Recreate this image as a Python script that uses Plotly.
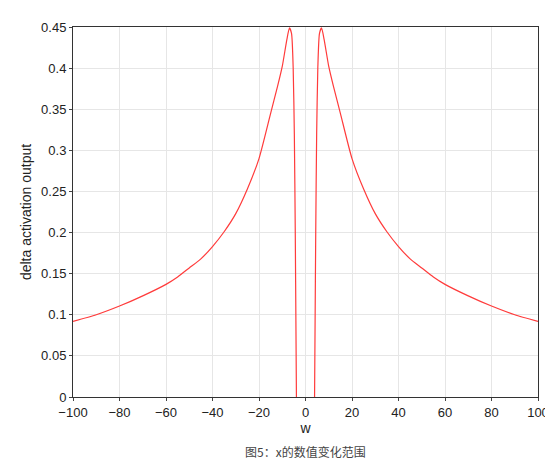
import plotly.graph_objects as go

w_left = [-100, -90, -80, -70, -60, -55, -50, -45, -40, -35, -30, -25, -20, -15, -12, -10, -8, -6.9, -6.0, -5.3, -4.8, -4.4, -4.1, -3.9]
y_left = [0.092, 0.100, 0.1106, 0.123, 0.137, 0.146, 0.157, 0.168, 0.183, 0.201, 0.223, 0.253, 0.290, 0.345, 0.378, 0.402, 0.435, 0.449, 0.442, 0.40, 0.32, 0.20, 0.08, 0.0]
w_right = [-v for v in reversed(w_left)]
y_right = list(reversed(y_left))

fig = go.Figure()
for xs, ys in ((w_left, y_left), (w_right, y_right)):
    fig.add_trace(go.Scatter(x=xs, y=ys, mode="lines", line=dict(color="#ff3b3b", width=1.2, shape="spline", smoothing=0.6),
                             showlegend=False))
ax = dict(showgrid=True, gridcolor="#e6e6e6", zeroline=False, showline=True, mirror=True,
          linecolor="#333", linewidth=1, ticks="outside", ticklen=3,
          tickfont=dict(family="Liberation Sans, Arial", size=13, color="#222"))
fig.update_xaxes(**ax, range=[-100, 100], tickmode="array", tickvals=list(range(-100, 101, 20)),
                 title=dict(text="w", font=dict(size=14, color="#222"), standoff=2))
fig.update_yaxes(**ax, range=[0, 0.45], tickmode="array", tickvals=[i * 0.05 for i in range(10)],
                 ticktext=["0", "0.05", "0.1", "0.15", "0.2", "0.25", "0.3", "0.35", "0.4", "0.45"],
                 title=dict(text="delta activation output", font=dict(size=14, color="#222"), standoff=6))
fig.update_layout(width=553, height=468, margin=dict(l=65, r=21, t=19, b=79),
                  plot_bgcolor="white", paper_bgcolor="white",
                  font=dict(family="Liberation Sans, Arial"))
fig.add_annotation(text="图5：x的数值变化范围", xref="paper", yref="paper", x=0.5, y=-0.175,
                   showarrow=False, font=dict(family="Noto Sans CJK SC", size=12, color="#444"))
fig.write_html("out.html")
